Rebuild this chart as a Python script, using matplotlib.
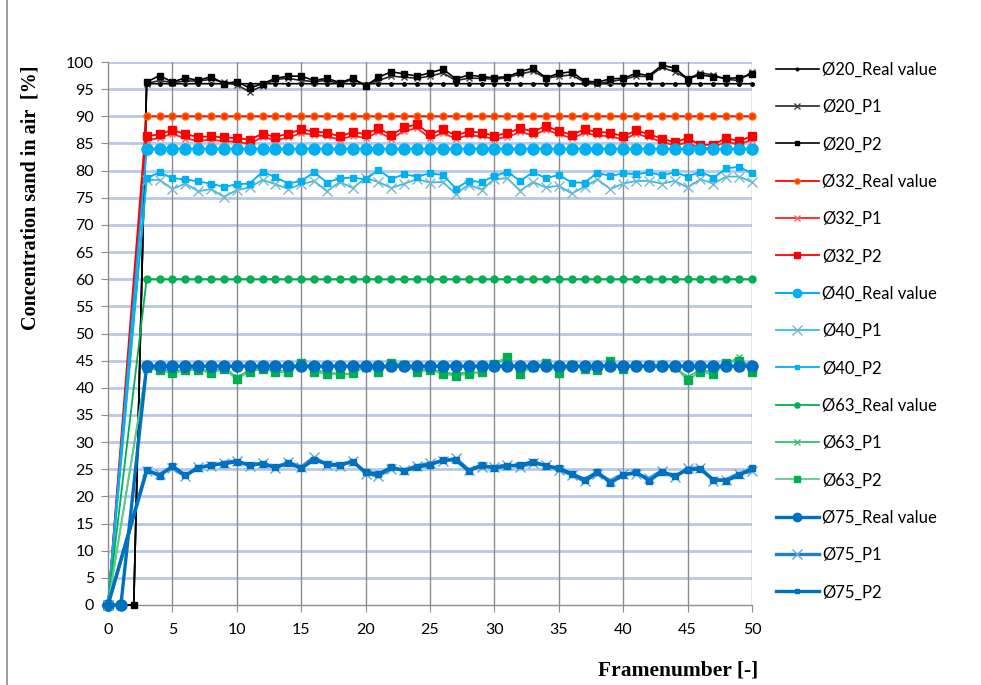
import numpy as np
import matplotlib.pyplot as plt
from matplotlib.lines import Line2D

# frame numbers 0..50
frames = np.arange(51)

# constant "real" concentrations [%]
real_20 = 96
real_32 = 90
real_40 = 84
real_63 = 60
real_75 = 44

# measured values for frames 3..50
p1_20 = [96.0, 96.6, 96.2, 96.5, 96.5, 96.8, 96.3, 95.8, 94.5, 95.6, 96.8, 97.0, 96.6, 96.4, 96.6, 96.0,
         96.8, 95.8, 96.6, 97.4, 97.2, 97.0, 97.4, 98.0, 96.6, 97.0, 97.0, 96.8, 97.1, 97.8, 98.3, 97.0,
         97.4, 97.6, 96.3, 96.0, 96.4, 96.8, 97.4, 97.3, 99.0, 98.2, 96.9, 98.0, 97.6, 96.8, 96.6, 98.2]
p2_20 = [96.3, 97.5, 96.3, 97.1, 96.6, 97.3, 96.0, 96.4, 95.2, 96.0, 97.0, 97.4, 97.4, 96.6, 97.0, 96.2,
         97.0, 95.6, 97.2, 98.2, 97.8, 97.4, 98.0, 98.7, 96.9, 97.6, 97.3, 97.1, 97.3, 98.2, 98.9, 97.1,
         97.9, 98.2, 96.5, 96.3, 96.9, 97.0, 97.9, 97.5, 99.4, 98.9, 96.9, 97.6, 97.3, 97.0, 97.1, 97.7]

p1_32 = [85.6, 86.0, 86.8, 85.9, 85.5, 85.7, 85.4, 85.3, 84.9, 86.2, 85.6, 86.1, 86.9, 86.6, 86.3, 85.7,
         86.4, 86.0, 87.1, 85.9, 87.3, 87.8, 86.0, 86.9, 85.9, 86.5, 86.3, 85.8, 86.2, 87.1, 86.5, 87.5,
         86.7, 86.0, 86.9, 86.5, 86.3, 85.7, 86.8, 86.1, 85.3, 84.6, 85.2, 84.0, 84.3, 85.3, 84.8, 85.7]
p2_32 = [86.3, 86.7, 87.5, 86.7, 86.2, 86.3, 86.1, 86.0, 85.7, 86.8, 86.2, 86.8, 87.6, 87.2, 87.0, 86.3,
         87.1, 86.7, 87.8, 86.5, 88.0, 88.5, 86.7, 87.6, 86.5, 87.2, 87.0, 86.4, 86.9, 87.8, 87.2, 88.2,
         87.3, 86.6, 87.6, 87.1, 87.0, 86.3, 87.4, 86.7, 85.9, 85.2, 86.0, 84.7, 84.8, 86.0, 85.4, 86.4]

p1_40 = [78.3, 78.3, 76.6, 77.6, 76.2, 76.6, 75.2, 76.4, 76.9, 78.3, 77.5, 76.6, 77.5, 78.1, 76.2, 77.9,
         76.8, 78.6, 77.9, 76.8, 77.6, 78.4, 77.8, 77.9, 75.7, 77.4, 76.5, 78.4, 78.6, 76.3, 77.9, 76.9,
         77.2, 75.8, 77.0, 78.4, 76.6, 77.6, 78.1, 78.1, 77.6, 78.1, 76.9, 78.4, 77.6, 78.9, 78.9, 77.9]
p2_40 = [78.6, 79.7, 78.6, 78.4, 78.0, 77.6, 77.0, 77.5, 77.6, 79.8, 78.8, 77.6, 78.1, 79.7, 77.8, 78.6,
         78.7, 78.4, 80.1, 78.5, 79.3, 78.9, 79.5, 79.2, 76.7, 78.1, 77.9, 79.0, 79.8, 78.1, 79.7, 78.6,
         79.2, 77.8, 77.8, 79.6, 79.0, 79.5, 79.3, 79.7, 79.1, 79.7, 78.9, 79.8, 78.7, 80.4, 80.7, 79.5]

p1_63 = [43.8, 43.5, 43.0, 43.4, 43.6, 42.9, 43.8, 41.9, 43.3, 43.8, 43.2, 43.1, 44.8, 43.3, 42.8, 42.6,
         42.5, 44.1, 43.2, 44.3, 44.5, 43.2, 43.5, 42.9, 42.5, 42.9, 42.7, 44.6, 45.2, 42.9, 44.1, 44.4,
         42.9, 44.4, 43.3, 43.5, 44.8, 43.7, 44.4, 44.0, 44.3, 43.7, 42.0, 43.3, 42.9, 44.4, 45.6, 43.4]
p2_63 = [43.6, 43.2, 42.7, 43.2, 43.3, 42.7, 43.5, 41.6, 43.0, 43.5, 42.9, 42.9, 44.5, 43.0, 42.5, 42.5,
         42.7, 43.9, 43.0, 44.5, 44.2, 42.9, 43.2, 42.6, 42.2, 42.6, 43.0, 44.4, 45.7, 42.6, 43.9, 44.6,
         42.7, 44.2, 43.5, 43.2, 45.0, 43.5, 44.2, 44.2, 44.2, 43.9, 41.4, 43.0, 42.5, 44.6, 45.0, 43.0]

p1_75 = [24.6, 24.1, 25.3, 23.7, 25.5, 25.6, 26.2, 26.6, 25.6, 26.2, 25.2, 26.3, 25.4, 27.2, 25.8, 25.6,
         26.6, 24.2, 23.8, 25.1, 24.9, 25.6, 26.1, 26.5, 27.0, 24.9, 25.5, 25.4, 25.8, 25.5, 26.1, 25.8,
         24.9, 24.0, 22.8, 24.2, 22.9, 24.1, 24.2, 23.3, 24.7, 23.5, 25.2, 25.2, 22.9, 23.1, 24.2, 24.6]
p2_75 = [24.9, 23.8, 25.6, 23.9, 25.2, 25.8, 26.0, 26.4, 25.8, 26.0, 25.4, 26.1, 25.2, 26.7, 26.0, 25.8,
         26.4, 24.5, 24.1, 25.4, 24.7, 25.4, 25.8, 26.7, 26.7, 24.7, 25.8, 25.2, 25.6, 25.8, 26.4, 25.6,
         25.2, 24.2, 23.1, 24.5, 22.5, 23.9, 24.5, 22.9, 24.5, 23.8, 24.9, 25.0, 23.1, 22.9, 23.9, 25.2]

labels = ["Ø20_Real value", "Ø20_P1", "Ø20_P2",
          "Ø32_Real value", "Ø32_P1", "Ø32_P2",
          "Ø40_Real value", "Ø40_P1", "Ø40_P2",
          "Ø63_Real value", "Ø63_P1", "Ø63_P2",
          "Ø75_Real value", "Ø75_P1", "Ø75_P2"]


def build(vals, zeros=(0,)):
    """Full 51-frame array: zeros at given frames, gaps elsewhere before frame 3"""
    arr = np.full(51, np.nan)
    for z in zeros:
        arr[z] = 0
    arr[3:] = vals
    return arr


series = [
    # data, color, lw, marker, ms, mfc, mec
    (build(real_20, (0, 1, 2)), "black", 1.2, "o", 2.5, "black", "black"),
    (build(p1_20, (0, 1, 2)), "#262626", 1.2, "x", 5, "#262626", "#404040"),
    (build(p2_20, (0, 1, 2)), "black", 1.2, "s", 4, "black", "black"),
    (build(real_32), "#FF0000", 1.3, "o", 5, "#FF3300", "#FF6600"),
    (build(p1_32), "#FF2020", 1.3, "x", 5, "#FF4040", "#FF6060"),
    (build(p2_32), "#FF0000", 1.3, "s", 6, "#FF0000", "#FF0000"),
    (build(real_40), "#00B0F0", 1.5, "o", 8, "#00B0F0", "#00B0F0"),
    (build(p1_40), "#33BDEF", 1.3, "x", 7, "#7FB6C6", "#7FB6C6"),
    (build(p2_40), "#00B0F0", 1.3, "s", 4, "#00B0F0", "#00B0F0"),
    (build(real_63), "#00B050", 1.3, "o", 5, "#00B050", "#00B050"),
    (build(p1_63), "#33C06F", 1.3, "x", 5, "#33C06F", "#33C06F"),
    (build(p2_63), "#5FCB8C", 1.3, "s", 6, "#00B050", "#00B050"),
    (build(real_75, (0, 1)), "#0070C0", 2.4, "o", 8, "#0070C0", "#0070C0"),
    (build(p1_75), "#2080CC", 2.4, "x", 7, "#5FA8DC", "#5FA8DC"),
    (build(p2_75), "#0070C0", 2.4, "s", 4, "#0070C0", "#0070C0"),
]

plt.rcParams['font.family'] = ['Lato', 'DejaVu Sans']

fig = plt.figure(figsize=(9.81, 6.85), dpi=100)
ax = fig.add_axes([108 / 981, 1 - 605 / 685, (752 - 108) / 981, (605 - 62) / 685])

# grid
for yv in range(5, 101, 5):
    ax.axhline(yv, color="#B7C8E8", lw=2.0, zorder=0)
for xv in range(5, 51, 5):
    ax.axvline(xv, color="#8C8C8C", lw=1.0, zorder=0)

handles = []
for (data, color, lw, marker, ms, mfc, mec), lab in zip(series, labels):
    mask = np.isfinite(data)
    ax.plot(frames[mask], data[mask], color=color, lw=lw, marker=marker, ms=ms,
            mfc=mfc, mec=mec, mew=1.0, clip_on=False, zorder=3)
    handles.append(Line2D([0], [0], color=color, lw=lw, marker=marker,
                          ms=ms * 0.75 if marker != "x" else ms, mfc=mfc, mec=mec, mew=1.0))

ax.set_xlim(0, 50)
ax.set_ylim(0, 100)
ax.set_xticks(range(0, 51, 5))
ax.set_yticks(range(0, 101, 5))
ax.tick_params(axis="both", direction="out", length=5, color="#8C8C8C",
               labelsize=11.5, labelcolor="black")
ax.tick_params(axis="x", pad=8)
ax.tick_params(axis="y", pad=5)
for side in ("top", "right"):
    ax.spines[side].set_visible(False)
for side in ("left", "bottom"):
    ax.spines[side].set_color("#8C8C8C")
    ax.spines[side].set_linewidth(1.0)

fig.text(31 / 981, 1 - 198 / 685, "Concentration sand in air  [%]", rotation=90,
         ha="center", va="center", fontsize=14.5, fontweight="bold",
         family="Liberation Serif")
fig.text(678 / 981, 1 - 670 / 685, "Framenumber [-]", ha="center", va="center",
         fontsize=15.5, fontweight="bold", family="Liberation Serif")

fig.legend(handles, labels, loc="upper left", bbox_to_anchor=(769 / 981, 1 - 55 / 685),
           frameon=False, fontsize=12, handlelength=2.6, handletextpad=0.2,
           labelspacing=1.28, borderaxespad=0)

# chart border line on the left
fig.add_artist(Line2D([7 / 981, 7 / 981], [0, 1], color="#8C8C8C", lw=1.2))

fig.savefig("out.png", dpi=100)
